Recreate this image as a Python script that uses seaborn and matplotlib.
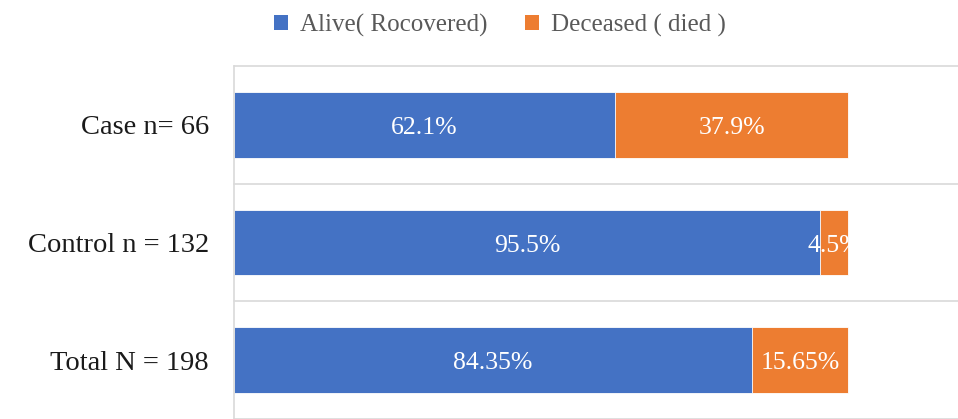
import matplotlib
matplotlib.use("Agg")
import matplotlib.pyplot as plt
from matplotlib.patches import Patch
import seaborn as sns
import pandas as pd

# Outcome shares (%) per study group
groups = ["Case n= 66", "Control n = 132", "Total N = 198"]
alive = [62.1, 95.5, 84.35]
deceased = [37.9, 4.5, 15.65]
alive_labels = ["62.1%", "95.5%", "84.35%"]
deceased_labels = ["37.9%", "4.5%", "15.65%"]
series_names = ["Alive( Rocovered)", "Deceased ( died )"]

BLUE = "#4472C4"
ORANGE = "#ED7D31"
GRID = "#D9D9D9"

sns.set_theme(style="white")
plt.rcParams["font.family"] = ["Liberation Serif", "DejaVu Serif"]

df = pd.DataFrame({"group": groups, "alive": alive, "deceased": deceased})
df["total"] = df["alive"] + df["deceased"]

fig = plt.figure(figsize=(9.58, 4.19), dpi=100)
ax = fig.add_axes([234 / 958, 0.0, 1 - 234 / 958, 1 - 66 / 419])

# Stacked bars: full length in orange, alive share drawn over it in blue
sns.barplot(data=df, y="group", x="total", color=ORANGE, width=0.56,
            orient="h", ax=ax, saturation=1, edgecolor="white", linewidth=0.6)
sns.barplot(data=df, y="group", x="alive", color=BLUE, width=0.56,
            orient="h", ax=ax, saturation=1, edgecolor="white", linewidth=0.6)

ax.set_xlim(0, (958 - 234) / 6.14)
ax.set_ylim(2.5, -0.5)
ax.set_xlabel("")
ax.set_ylabel("")
ax.set_xticks([])

# Category separators
for yb in [-0.5, 0.5, 1.5, 2.5]:
    ax.axhline(yb, color=GRID, lw=1.2, zorder=0, clip_on=False)
for s in ["top", "right", "bottom"]:
    ax.spines[s].set_visible(False)
ax.spines["left"].set_color(GRID)
ax.spines["left"].set_linewidth(1.2)

ax.tick_params(axis="y", length=0, pad=18, labelsize=20.5, labelcolor="#1a1a1a")

# Segment value labels
for i in range(len(groups)):
    ax.annotate(alive_labels[i], xy=(alive[i] / 2, i), xytext=(0, -3),
                textcoords="offset pixels", ha="center", va="center",
                color="white", fontsize=18.5)
    ax.annotate(deceased_labels[i], xy=(alive[i] + deceased[i] / 2, i),
                xytext=(0, -3), textcoords="offset pixels", ha="center",
                va="center", color="white", fontsize=18.5)

handles = [Patch(facecolor=BLUE, edgecolor="none"),
           Patch(facecolor=ORANGE, edgecolor="none")]
fig.legend(handles, series_names, loc="center", bbox_to_anchor=(0.522, 0.94),
           ncol=2, frameon=False, fontsize=18, handlelength=0.55,
           handleheight=0.55, handletextpad=0.5, columnspacing=1.5,
           labelcolor="#595959")

fig.savefig("out.png", dpi=100)
